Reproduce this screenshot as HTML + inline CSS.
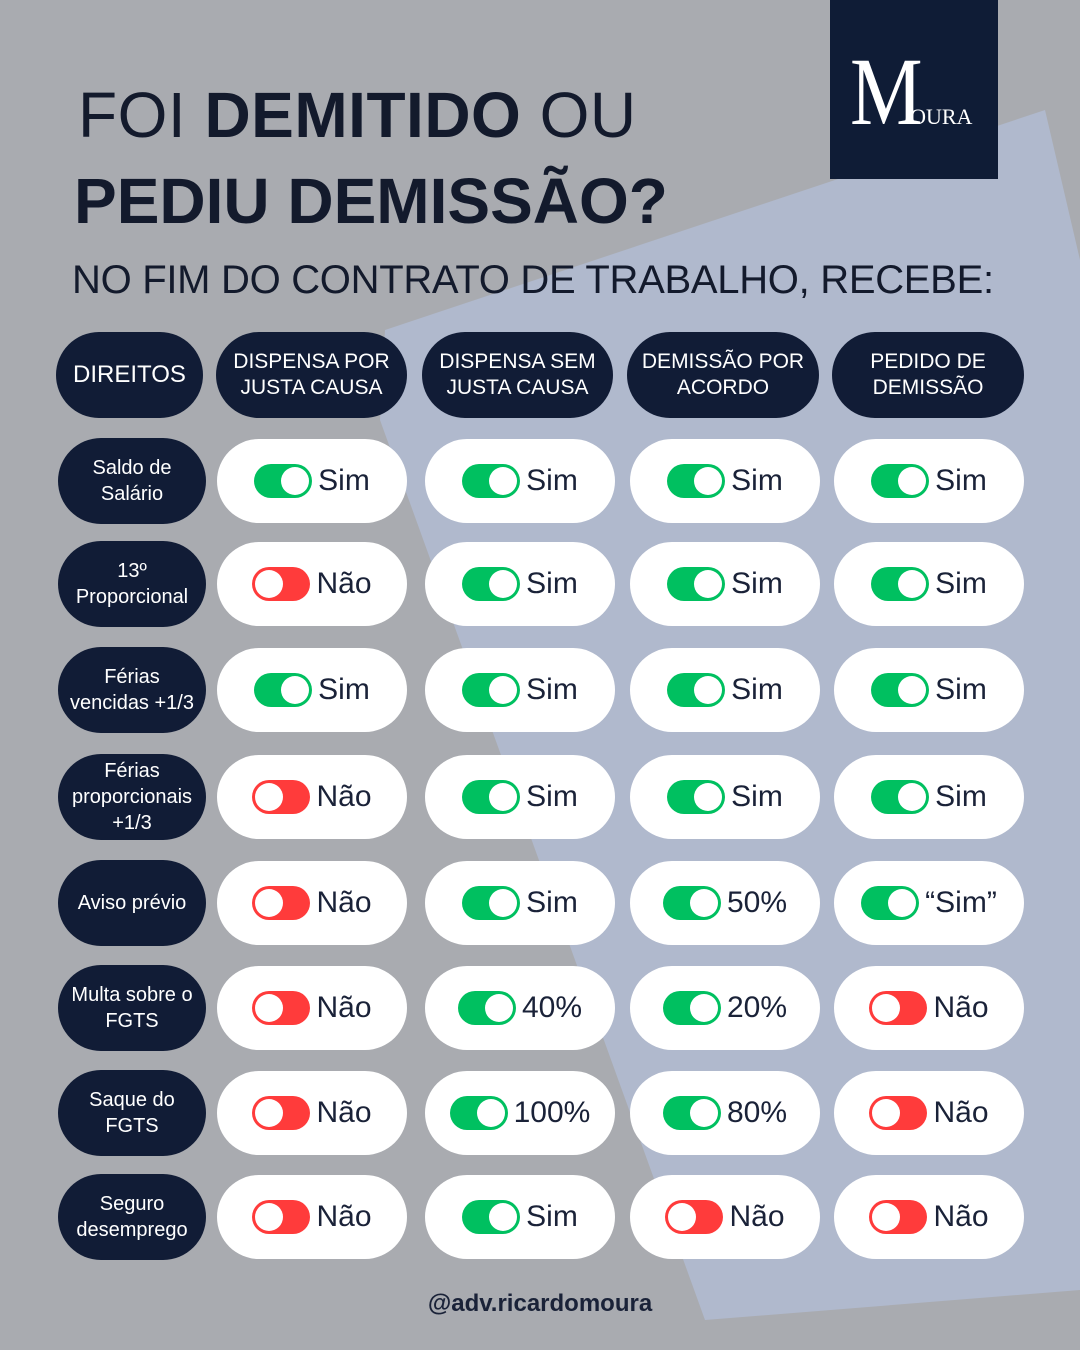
<!DOCTYPE html><html><head><meta charset="utf-8"><style>
body{margin:0}
#c{position:relative;width:1080px;height:1350px;overflow:hidden;background:#a9abb0;font-family:"Liberation Sans",sans-serif}
.p{position:absolute;border-radius:44px;display:flex;align-items:center;justify-content:center;text-align:center}
.n{background:#111c36;color:#fff;font-size:21px;line-height:26px}
.w{background:#fff;color:#1a2238;font-size:30px;height:84px;width:190px}
.t{width:58px;height:34px;border-radius:17px;position:relative;margin-right:6px;flex:none}
.g{background:#00c060}.r{background:#ff3b3b}
.t i{position:absolute;top:3px;width:28px;height:28px;border-radius:50%;background:#fff}
.g i{right:3px}.r i{left:3px}
h1{position:absolute;margin:0;color:#131a2c;font-weight:normal}
</style></head><body><div id="c">
<svg width="1080" height="1350" style="position:absolute;left:0;top:0"><polygon points="385,330 1045,110 1080,260 1080,1290 705,1320 380,420" fill="#b0b9cd"/></svg>
<div style="position:absolute;left:830px;top:0;width:168px;height:179px;background:#0f1c36;color:#fff;font-family:'Liberation Serif',serif">
<span style="position:absolute;left:20px;top:44px;font-size:96px;line-height:96px;transform:scaleX(0.85);transform-origin:left">M</span>
<span style="position:absolute;left:74px;top:104px;font-size:22px">/OURA</span></div>
<h1 style="left:78px;top:78px;font-size:64px;letter-spacing:0.5px">FOI <b>DEMITIDO</b> OU</h1>
<h1 style="left:74px;top:164px;font-size:64px;font-weight:bold">PEDIU DEMISSÃO?</h1>
<h1 style="left:72px;top:258px;font-size:40px;letter-spacing:-0.3px">NO FIM DO CONTRATO DE TRABALHO, RECEBE:</h1>
<div class="p n" style="left:56px;top:332px;width:147px;height:86px;font-size:24px">DIREITOS</div>
<div class="p n" style="left:216px;top:332px;width:191px;height:86px">DISPENSA POR<br>JUSTA CAUSA</div>
<div class="p n" style="left:422px;top:332px;width:191px;height:86px">DISPENSA SEM<br>JUSTA CAUSA</div>
<div class="p n" style="left:627px;top:332px;width:192px;height:86px">DEMISSÃO POR<br>ACORDO</div>
<div class="p n" style="left:832px;top:332px;width:192px;height:86px">PEDIDO DE<br>DEMISSÃO</div>
<div id="rows"></div>
<div style="position:absolute;left:0;width:1080px;top:1290px;text-align:center;font-size:24px;font-weight:bold;color:#1a2238">@adv.ricardomoura</div>
</div>
<script>
var L=["Saldo de<br>Salário","13º<br>Proporcional","Férias<br>vencidas +1/3","Férias<br>proporcionais<br>+1/3","Aviso prévio","Multa sobre o<br>FGTS","Saque do<br>FGTS","Seguro<br>desemprego"];
var Y=[481,584,690,797,903,1008,1113,1217];
var D=[["S","S","S","S"],["N","S","S","S"],["S","S","S","S"],["N","S","S","S"],["N","S","g50%","g“Sim”"],["N","g40%","g20%","N"],["N","g100%","g80%","N"],["N","S","N","N"]];
var X=[217,425,630,834],h="";
for(var i=0;i<8;i++){h+='<div class="p n" style="left:58px;top:'+(Y[i]-43)+'px;width:148px;height:86px;font-size:20px">'+L[i]+'</div>';
for(var j=0;j<4;j++){var d=D[i][j],c,t;if(d=="S"){c="g";t="Sim"}else if(d=="N"){c="r";t="Não"}else{c="g";t=d.slice(1)}
h+='<div class="p w" style="left:'+X[j]+'px;top:'+(Y[i]-42)+'px"><div class="t '+c+'"><i></i></div>'+t+'</div>';}}
document.getElementById("rows").innerHTML=h;
</script></body></html>
